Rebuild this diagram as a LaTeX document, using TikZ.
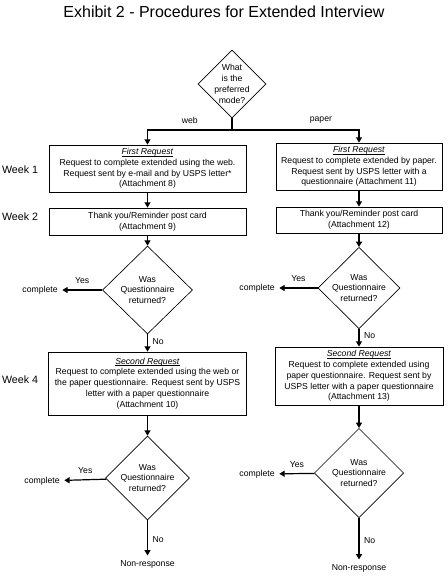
\documentclass[tikz,border=0pt]{standalone}
\usepackage{amsmath}
\usepackage{fontspec}
\setmainfont{Liberation Sans}
\usetikzlibrary{shapes.geometric,arrows.meta}

\newcommand{\steptitle}[1]{\underline{\smash[b]{\textit{#1}}}}

\begin{document}
\begin{tikzpicture}[x=0.75pt,y=-0.75pt,
        every node/.style={font=\fontsize{6.5}{8.1}\selectfont},
        box/.style={draw,line width=0.6pt,inner sep=0pt,align=center},
        decision/.style={draw,diamond,inner sep=0pt,line width=0.5pt},
        inside/.style={align=center,inner sep=0pt},
        week/.style={font=\fontsize{8}{9.6}\selectfont},
        arr/.style={line width=0.9pt,-{Triangle[length=4pt,width=4.5pt]}}]
        \useasboundingbox (0,0) rectangle (448,586);

        \node[font=\fontsize{12}{14}\selectfont] (title) at (224,12) {Exhibit 2 - Procedures for Extended Interview};

        \node[decision,minimum width=51pt,minimum height=51pt,
            label={[inside]center:{What\\is the\\preferred\\mode?}}] (q0) at (232,84) {};
        \coordinate (sp) at (232,130);

        \node[week] (w1) at (20,170) {Week 1};
        \node[week] (w2) at (20,217) {Week 2};
        \node[week] (w4) at (20,380) {Week 4};

        \node[box,minimum width=147.75pt,minimum height=35.25pt] (b1l) at (147.5,168.5)
            {\steptitle{First Request}\\Request to complete extended using the web.\\Request sent by e-mail and by USPS letter*\\(Attachment 8)};
        \node[box,minimum width=124.5pt,minimum height=35.25pt] (b1r) at (359,166.5)
            {\steptitle{First Request}\\Request to complete extended by paper.\\Request sent by USPS letter with a\\questionnaire (Attachment 11)};
        \node[box,minimum width=147.75pt,minimum height=20.25pt] (b2l) at (147.5,221.5)
            {Thank you/Reminder post card\\(Attachment 9)};
        \node[box,minimum width=124.5pt,minimum height=19.5pt] (b2r) at (359,220)
            {Thank you/Reminder post card\\(Attachment 12)};

        \node[decision,minimum width=67.5pt,minimum height=66pt,
            label={[inside]center:{Was\\Questionnaire\\returned?}}] (d2l) at (147.5,290) {};
        \node[decision,minimum width=61.5pt,minimum height=61pt,
            label={[inside]center:{Was\\Questionnaire\\returned?}}] (d2r) at (359,288) {};
        \node (c2l) at (40,290) {complete};
        \node (c2r) at (257,288) {complete};

        \node[box,minimum width=148.5pt,minimum height=47.25pt] (b3l) at (147.5,383.5)
            {\steptitle{Second Request}\\Request to complete extended using the web or\\the paper questionnaire. Request sent by USPS\\letter with a paper questionnaire\\(Attachment 10)};
        \node[box,minimum width=126pt,minimum height=43.5pt] (b3r) at (359,376)
            {\steptitle{Second Request}\\Request to complete extended using\\paper questionnaire. Request sent by\\USPS letter with a paper questionnaire\\(Attachment 13)};

        \node[decision,minimum width=63pt,minimum height=63pt,
            label={[inside]center:{Was\\Questionnaire\\returned?}}] (d3l) at (147.5,478) {};
        \node[decision,minimum width=67pt,minimum height=67pt,
            label={[inside]center:{Was\\Questionnaire\\returned?}}] (d3r) at (359,473) {};
        \node (c3l) at (42,481) {complete};
        \node (c3r) at (257,474) {complete};
        \node (n3l) at (147.5,564) {Non-response};
        \node (n3r) at (359,568) {Non-response};

        \draw[line width=0.9pt] (q0.south) -- (sp);
        \draw[arr] (sp) -| node[pos=0.25,above=1pt]{web} (b1l);
        \draw[arr] (sp) -| node[pos=0.35,above=1pt]{paper} (b1r);
        \draw[arr] (b1l) -- (b2l);
        \draw[arr] (b1r) -- (b2r);
        \draw[arr] (b2l) -- (d2l);
        \draw[arr] (b2r) -- (d2r);
        \draw[arr] (d2l) -- node[above=1pt]{Yes} (c2l);
        \draw[arr] (d2r) -- node[above=1pt]{Yes} (c2r);
        \draw[arr] (d2l) -- node[right,pos=0.4]{No} (b3l);
        \draw[arr] (d2r) -- node[right,pos=0.4]{No} (b3r);
        \draw[arr] (b3l) -- (d3l);
        \draw[arr] (b3r) -- (d3r);
        \draw[arr] (d3l) -- node[above=1pt]{Yes} (c3l);
        \draw[arr] (d3r) -- node[above=1pt]{Yes} (c3r);
        \draw[arr] (d3l) -- node[right,pos=0.55]{No} (n3l);
        \draw[arr] (d3r) -- node[right,pos=0.55]{No} (n3r);
\end{tikzpicture}
\end{document}
